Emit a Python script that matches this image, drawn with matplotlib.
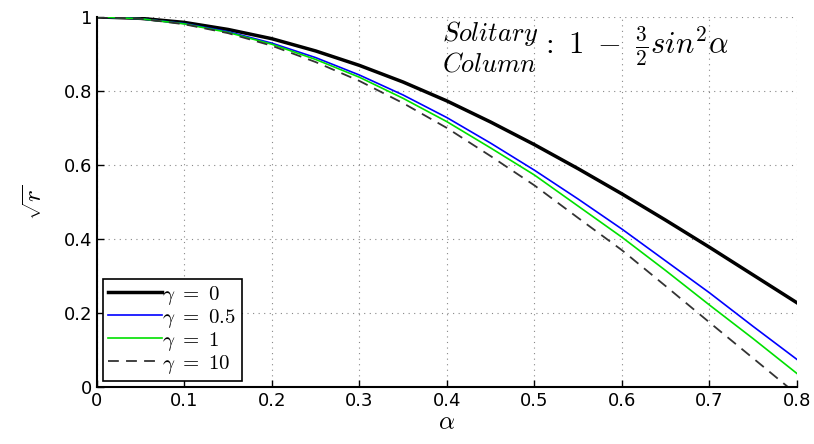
import matplotlib.pyplot as plt
import numpy as np

plt.rcParams['mathtext.fontset'] = 'cm'

# values
alpha = [0.0, 0.05, 0.1, 0.15, 0.2, 0.25, 0.3, 0.35, 0.4, 0.45, 0.5,
         0.55, 0.6, 0.65, 0.7, 0.75, 0.8]
r_g0 = [1.0, 0.996, 0.985, 0.966, 0.941, 0.908, 0.869, 0.824, 0.773, 0.716, 0.655,
        0.590, 0.522, 0.451, 0.378, 0.303, 0.228]
r_g05 = [1.0, 0.995, 0.982, 0.960, 0.929, 0.890, 0.843, 0.789, 0.728, 0.659, 0.586,
         0.508, 0.427, 0.341, 0.255, 0.164, 0.075]
r_g1 = [1.0, 0.995, 0.981, 0.958, 0.926, 0.885, 0.837, 0.780, 0.717, 0.646, 0.573,
        0.489, 0.405, 0.315, 0.222, 0.131, 0.037]
alpha10 = [0.0, 0.05, 0.1, 0.15, 0.2, 0.25, 0.3, 0.35, 0.4, 0.45, 0.5,
           0.55, 0.6, 0.65, 0.7, 0.75, 0.79]
r_g10 = [1.0, 0.995, 0.980, 0.956, 0.922, 0.878, 0.827, 0.767, 0.700, 0.624, 0.545,
         0.457, 0.370, 0.273, 0.175, 0.078, 0.0]

fig = plt.figure(figsize=(8.14, 4.44), dpi=100)
ax = fig.add_axes([0.119, 0.128, 0.86, 0.834])

ax.plot(alpha, r_g0, color='black', lw=2.5, label=r'$\gamma\ =\ 0$')
ax.plot(alpha, r_g05, color='blue', lw=1.2, label=r'$\gamma\ =\ 0.5$')
ax.plot(alpha, r_g1, color='#00e000', lw=1.2, label=r'$\gamma\ =\ 1$')
ax.plot(alpha10, r_g10, color='#333333', lw=1.3, ls=(0, (6, 4)), label=r'$\gamma\ =\ 10$')

ax.set_xlim(0, 0.8)
ax.set_ylim(0, 1)
ax.set_xticks(np.arange(0, 0.81, 0.1))
ax.set_xticklabels(['0', '0.1', '0.2', '0.3', '0.4', '0.5', '0.6', '0.7', '0.8'])
ax.set_yticks([0, 0.2, 0.4, 0.6, 0.8, 1])
ax.set_yticklabels(['0', '0.2', '0.4', '0.6', '0.8', '1'])
ax.tick_params(direction='in', labelsize=13, length=5, width=1)
ax.grid(True, ls=(0, (1, 4)), color='#888888', lw=0.8)
for s in ['top', 'right']:
    ax.spines[s].set_visible(False)
for s in ['left', 'bottom']:
    ax.spines[s].set_linewidth(1.5)

ax.set_xlabel(r'$\alpha$', fontsize=18, labelpad=0)
ax.set_ylabel(r'$\sqrt{r}$', fontsize=18, labelpad=12)

# annotation: stacked words + formula
ax.text(0.504, 0.918, r'$\genfrac{}{}{0}{0}{Solitary}{Column}$',
        fontsize=19, ha='right', va='center')
ax.text(0.506, 0.918, r'$:\ 1\ -\ \frac{3}{2}sin^2\alpha$',
        fontsize=22, ha='left', va='center')

leg = ax.legend(loc='lower left', fontsize=15, handlelength=2.6, handletextpad=0.0,
                borderaxespad=0.3, labelspacing=0.0, borderpad=0.25,
                fancybox=False, framealpha=1)
leg.get_frame().set_edgecolor('black')
leg.get_frame().set_linewidth(1.2)

fig.savefig('out.png', dpi=100)
